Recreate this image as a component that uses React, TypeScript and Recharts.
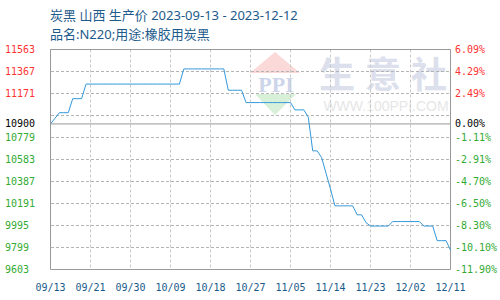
import { CartesianGrid, Line, LineChart, ReferenceLine, XAxis, YAxis } from "recharts";

// daily price, 2023-09-13 .. 2023-12-12 (yuan/ton)
const prices = [
  10900, 10950, 11000, 11000, 11000, 11125, 11125, 11125,
  11255, 11255, 11255, 11255, 11255, 11255, 11255, 11255, 11255, 11255, 11255,
  11255, 11255, 11255, 11255, 11255, 11255, 11255, 11255, 11255, 11255, 11255,
  11390, 11390, 11390, 11390, 11390, 11390, 11390, 11390, 11390, 11390,
  11200, 11200, 11200, 11200,
  11090, 11090, 11090, 11090, 11090, 11090, 11090, 11090, 11090, 11090, 11090,
  11025, 11025, 11025, 10960, 10660, 10660, 10600, 10460, 10320,
  10170, 10170, 10170, 10170, 10170, 10090, 10090, 10020,
  9990, 9990, 9990, 9990, 9990,
  10030, 10030, 10030, 10030, 10030, 10030, 10030,
  9990, 9990, 9990, 9860, 9860, 9860, 9775,
];

const xTickIdx = [0, 9, 18, 27, 36, 45, 54, 63, 72, 81, 90];
const xTickLabels = ["09/13", "09/21", "09/30", "10/09", "10/18", "10/27", "11/05", "11/14", "11/23", "12/02", "12/11"];

const basePrice = 10900;
const yTicks = [9603, 9799, 9995, 10191, 10387, 10583, 10779, 10900, 11171, 11367, 11563];
const pctLabels = ["-11.90%", "-10.10%", "-8.30%", "-6.50%", "-4.70%", "-2.91%", "-1.11%", "0.00%", "2.49%", "4.29%", "6.09%"];
const gridValues = [9799, 9995, 10191, 10387, 10583, 10779, 10975, 11171, 11367];

const data = prices.map((p, i) => ({ i, p }));

const mono = "'DejaVu Sans Mono', monospace";
const gridColor = "#b4b4b4";
const tickColor = (v: number) => (v > basePrice ? "#ff3333" : v < basePrice ? "#33aa33" : "#000");

// left price label and right percent label share the same scale position
const PriceTick = (props: any) => {
  const { y, payload } = props;
  const color = tickColor(payload.value);
  return (
    <g>
      <text x={5} y={y} dy="0.35em" fontSize={10} fontFamily={mono} fill={color}>
        {payload.value}
      </text>
      <text x={455} y={y} dy="0.35em" fontSize={10} fontFamily={mono} fill={color}>
        {pctLabels[yTicks.indexOf(payload.value)]}
      </text>
    </g>
  );
};

const Watermark = () => (
  <svg width={500} height={300} style={{ position: "absolute", left: 0, top: 0 }}>
    <polygon points="275,52 250,73 300,73" fill="#fbd9d9" />
    <text x={276} y={92} textAnchor="middle" fontSize={22} fontWeight="bold" fontFamily="'Liberation Serif', serif" fill="#cdd5ea">
      PPI
    </text>
    <polygon points="255,94 296,94 275,115" fill="#d8efd8" />
    <text x={388} y={88} textAnchor="middle" fontSize={36} fontWeight="bold" letterSpacing={10} fontFamily="'Noto Sans CJK SC', sans-serif" fill="#dce0ec">
      生意社
    </text>
    <text x={386} y={111} textAnchor="middle" fontSize={14} fontFamily="'Liberation Sans', sans-serif" fill="#e6e6e6">
      WWW.100PPI.COM
    </text>
  </svg>
);

export default function App() {
  const titleFont = "'Noto Sans', 'Noto Sans CJK SC', sans-serif";
  return (
    <div style={{ position: "absolute", left: 0, top: 0, width: 500, height: 300, background: "#fff" }}>
      <Watermark />
      <div style={{ position: "absolute", left: 50, top: 5, fontSize: 13, fontFamily: titleFont, color: "#1d5b8c", whiteSpace: "nowrap" }}>
        炭黑 山西 生产价 2023-09-13 - 2023-12-12
      </div>
      <div style={{ position: "absolute", left: 50, top: 24, fontSize: 13, fontFamily: titleFont, color: "#1d5b8c", whiteSpace: "nowrap" }}>
        品名:N220;用途:橡胶用炭黑
      </div>
      <div style={{ position: "absolute", left: 0, top: 0 }}>
        {/* half-pixel margins keep the 1px grid lines crisp */}
        <LineChart width={500} height={300} data={data} margin={{ top: 49.5, right: 49.5, bottom: 0, left: 0 }}>
          <CartesianGrid stroke="#c8c8c8" strokeDasharray="3 2" horizontal={false} />
          <XAxis
            dataKey="i"
            type="number"
            domain={[0, 90]}
            ticks={xTickIdx}
            tickFormatter={(v: number) => xTickLabels[xTickIdx.indexOf(v)]}
            height={30.5}
            tickLine={false}
            tickMargin={8}
            axisLine={{ stroke: "#999" }}
            tick={{ fontSize: 10, fontFamily: mono, fill: "#1a5a8a" }}
            interval={0}
          />
          <YAxis
            width={50.5}
            domain={[9603, 11563]}
            ticks={yTicks}
            interval={0}
            tickLine={false}
            axisLine={{ stroke: "#999" }}
            tick={<PriceTick />}
          />
          {gridValues.map((v) => (
            <ReferenceLine
              key={v}
              y={v}
              stroke={gridColor}
              strokeWidth={1}
              strokeDasharray="3 2"
              shapeRendering="crispEdges"
            />
          ))}
          <ReferenceLine y={11563} stroke="#999" />
          <ReferenceLine y={basePrice} stroke="#999" />
          <ReferenceLine x={90} stroke="#999" />
          <Line
            type="linear"
            dataKey="p"
            stroke="#3498db"
            strokeWidth={1}
            dot={false}
            isAnimationActive={false}
          />
        </LineChart>
      </div>
    </div>
  );
}
